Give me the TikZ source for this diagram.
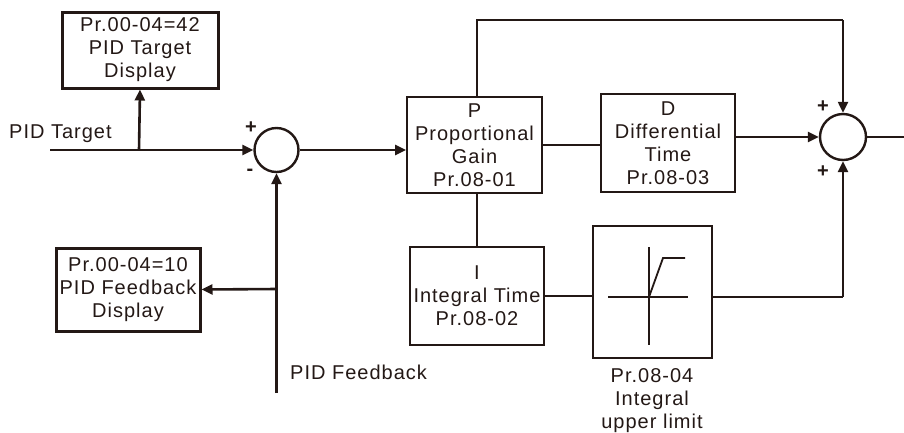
\documentclass[tikz,border=0pt]{standalone}
\usepackage{fontspec}
\setmainfont[LetterSpace=5]{Liberation Sans}
\usetikzlibrary{arrows.meta,calc}
\definecolor{ink}{HTML}{231815}
\tikzset{
  txt/.style={font=\fontsize{20}{23}\selectfont, align=center, text=ink, inner sep=0pt},
  blk/.style={txt, draw=ink, line width=1.8pt, rectangle, anchor=center},
  disp/.style={blk, line width=3pt},
  sumc/.style={circle, draw=ink, line width=2.4pt, minimum size=#1, inner sep=0pt},
  sig/.style={line width=2.6pt, draw=ink, -{Triangle[length=11pt,width=10pt]}},
  thin/.style={line width=1.8pt, draw=ink},
  mid/.style={line width=2.3pt, draw=ink},
  sgn/.style={font=\fontsize{20}{20}\selectfont\bfseries, text=ink, inner sep=0pt}
}
\begin{document}
\begin{tikzpicture}[x=1pt,y=-1pt]
\useasboundingbox (0,0) rectangle (904,432);
% nodes
\node[disp, minimum width=156pt, minimum height=76pt] (tdisp) at (140,50) {Pr.00-04=42\\PID Target\\Display};
\node[disp, minimum width=144pt, minimum height=83pt] (fdisp) at (128,289.5) {Pr.00-04=10\\PID Feedback\\Display};
\node[sumc=44pt] (sum1) at (276.5,150) {};
\node[sumc=46pt] (sum2) at (843,137) {};
\node[blk, minimum width=135pt, minimum height=96pt] (P) at (474.5,145) {P\\Proportional\\Gain\\Pr.08-01};
\node[blk, minimum width=134pt, minimum height=98pt] (D) at (668,143) {D\\Differential\\Time\\Pr.08-03};
\node[blk, minimum width=134pt, minimum height=98pt] (I) at (477,296) {I\\Integral Time\\Pr.08-02};
\node[blk, minimum width=119pt, minimum height=132pt] (L) at (652.5,292) {};
\node[txt, anchor=west] (ttxt) at (9,134) {PID Target};
\node[txt, anchor=west] (ftxt) at (290,372) {PID Feedback};
\node[txt] (ltxt) at (652,401) {Pr.08-04\\Integral\\upper limit};
\node[sgn] (s1) at (251,128) {+};
\node[sgn] (s2) at (250,172) {-};
\node[sgn] (s3) at (823,107) {+};
\node[sgn] (s4) at (823,172) {+};
% coordinates
\coordinate (tin) at (50,150);
\coordinate (tbr) at (139,150);
\coordinate (fin) at (276.5,393);
\coordinate (fbr) at (276.5,289);
\coordinate (out) at (904,137);
\coordinate (topl) at (477,20);
\coordinate (lout) at (843,297);
% connectors
\draw[sig] (tin) -- (sum1.west);
\draw[sig] (tbr) -- (tdisp.south);
\draw[sig] (fin) -- (sum1.south);
\draw[sig] (fbr) -- (fdisp.east);
\draw[sig] (sum1.east) -- (sum1.east -| P.west);
\draw[mid] (topl |- P.north) -- (topl) -- (topl -| sum2.north);
\draw[sig, line width=2.3pt] (topl -| sum2.north) -- (sum2.north);
\draw[thin] (P.east) -- (P.east -| D.west);
\draw[sig] (D.east |- sum2.west) -- (sum2.west);
\draw[line width=2.6pt, draw=ink] (sum2.east) -- (out);
\draw[thin] (P.south -| topl) -- (I.north -| topl);
\draw[thin] (I.east) -- (I.east -| L.west);
\draw[mid] (L.east |- lout) -- (lout);
\draw[sig] (lout) -- (sum2.south);
% limiter graph
\draw[thin] (649,247) -- (649,345);
\draw[thin] (608,297) -- (688,297);
\draw[thin] (649,297) -- (663,258) -- (685,258);
\end{tikzpicture}
\end{document}
